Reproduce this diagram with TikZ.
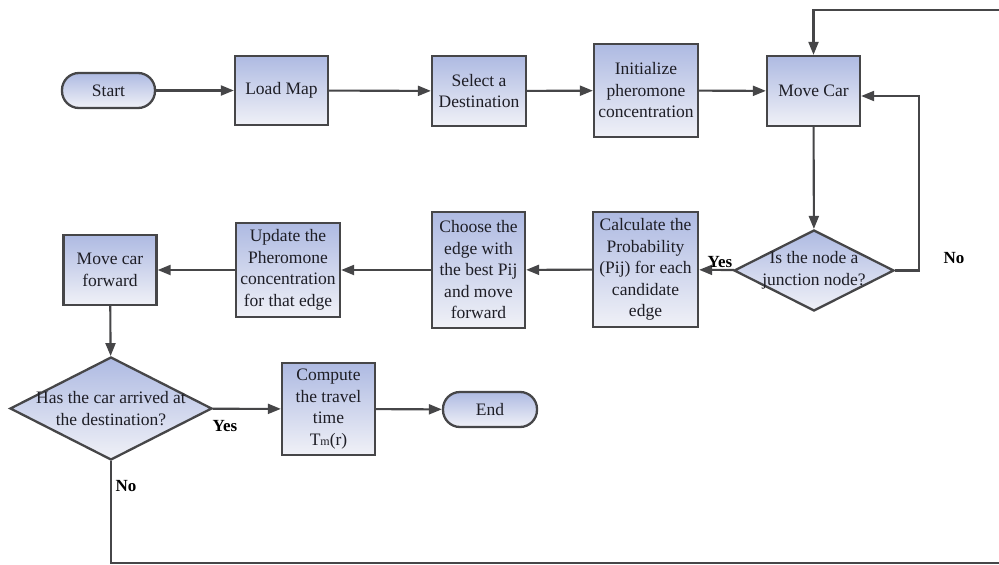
\documentclass[tikz,border=0pt]{standalone}
\usepackage{fontspec}
\setmainfont{Liberation Serif}
\usetikzlibrary{shapes.geometric,arrows.meta,calc}

\definecolor{boxtop}{RGB}{174,186,226}
\definecolor{boxbot}{RGB}{240,241,247}
\definecolor{edgegray}{RGB}{70,70,72}
\definecolor{inkgray}{RGB}{30,30,38}

\newcommand{\zw}[1]{\makebox[0pt]{#1}}

\tikzset{
  every node/.style={font=\rmfamily\fontsize{17.5}{21.5}\selectfont, text=inkgray},
  procbox/.style={draw=edgegray, line width=2.3pt, top color=boxtop, bottom color=boxbot,
    align=center, inner sep=0pt},
  pill/.style={procbox, rounded corners=17pt},
  decision/.style={procbox, shape=diamond, shape aspect=1},
  flow/.style={draw=edgegray, line width=2.1pt,
    -{Triangle[length=13pt,width=10pt]}},
  answer/.style={font=\rmfamily\bfseries\fontsize{17}{20}\selectfont, text=black},
}

\begin{document}
\begin{tikzpicture}[x=1pt,y=-1pt]
  \useasboundingbox (0,0) rectangle (999,565);
  \clip (0,0) rectangle (999,565);
  \fill[white] (0,0) rectangle (999,565);

  % top row
  \node[pill, minimum width=93, minimum height=35] (start) at (108.5,90.5) {Start};
  \node[procbox, minimum width=93, minimum height=69] (load) at (281.5,90.5) {Load Map};
  \node[procbox, minimum width=94, minimum height=70] (select) at (479,91) {Select a\\Destination};
  \node[procbox, minimum width=104, minimum height=93] (init) at (646,90.5) {Initialize\\pheromone\\concentration};
  \node[procbox, minimum width=93, minimum height=70] (move) at (813.5,91) {Move Car};

  % middle row
  \node[decision, minimum width=160, minimum height=81] (junc) at (814,270.5)
    {\zw{Is the node a}\\\zw{junction node?}};
  \node[procbox, minimum width=105, minimum height=115] (calc) at (645.5,269.5)
    {Calculate the\\Probability\\(Pij) for each\\candidate\\edge};
  \node[procbox, minimum width=93, minimum height=116] (choose) at (478.5,270)
    {Choose the\\edge with\\the best Pij\\and move\\forward};
  \node[procbox, minimum width=104, minimum height=94] (update) at (288,270)
    {Update the\\Pheromone\\concentration\\for that edge};
  \node[procbox, minimum width=93, minimum height=70] (fwd) at (110,270) {Move car\\forward};

  % bottom row
  \node[decision, minimum width=202, minimum height=103] (arrived) at (111,408.5)
    {\zw{Has the car arrived at}\\\zw{the destination?}};
  \node[procbox, minimum width=93, minimum height=92] (travel) at (328.5,409)
    {Compute\\the travel\\time\\T\raisebox{-0.5pt}{\fontsize{12}{12}\selectfont m}(r)};
  \node[pill, minimum width=94, minimum height=35] (stop) at (490,409.5) {End};

  % loop corners outside the page
  \coordinate (loopbr) at (1015,563);
  \coordinate (looptr) at (1015,10);

  % connectors
  \draw[flow] (start) -- (load);
  \draw[flow] (load) -- (select);
  \draw[flow] (select) -- (init);
  \draw[flow] (init) -- (move);
  \draw[flow] (move) -- (junc);
  \draw[flow] (junc.east) -- ++(24,0) |- ($(move.east)+(0,5)$);
  \draw[flow] (junc) -- (calc);
  \draw[flow] (calc) -- (choose);
  \draw[flow] (choose) -- (update);
  \draw[flow] (update) -- (fwd);
  \draw[flow] (fwd) -- (arrived);
  \draw[flow] (arrived) -- (travel);
  \draw[flow] (travel) -- (stop);
  \draw[flow] (arrived.south) |- (loopbr) -- (looptr) -| (move.north);

  % branch labels
  \node[answer] (yesj) at (720,262) {Yes};
  \node[answer] (noj) at (954,258) {No};
  \node[answer] (yesa) at (225,426) {Yes};
  \node[answer] (noa) at (126,486) {No};
\end{tikzpicture}
\end{document}
